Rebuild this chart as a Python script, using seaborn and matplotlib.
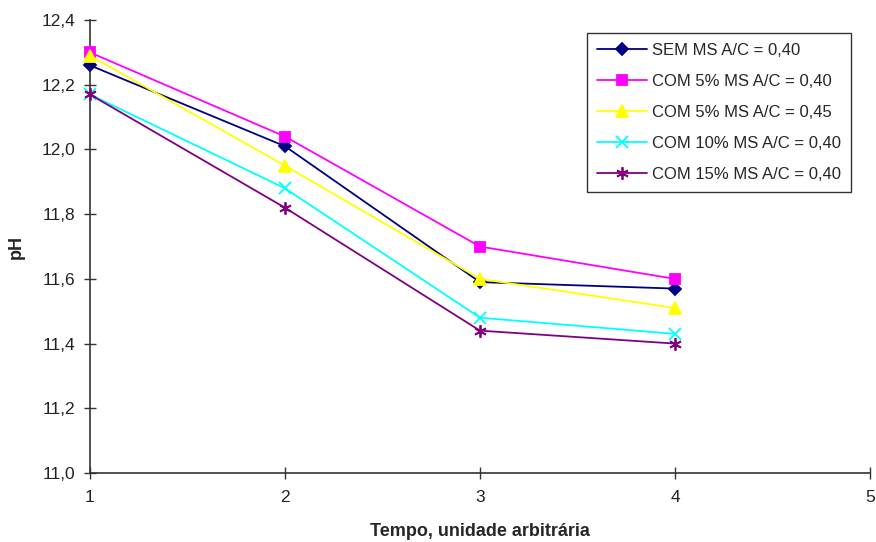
import numpy as np
import pandas as pd
from matplotlib import pyplot as plt
from matplotlib.ticker import FuncFormatter
import seaborn as sns

# Dados
tempo = [1, 2, 3, 4]
series = [
    "SEM MS A/C = 0,40",
    "COM 5% MS A/C = 0,40",
    "COM 5% MS A/C = 0,45",
    "COM 10% MS A/C = 0,40",
    "COM 15% MS A/C = 0,40",
]
ph_sem_040 = [12.26, 12.01, 11.59, 11.57]
ph_5_040 = [12.30, 12.04, 11.70, 11.60]
ph_5_045 = [12.29, 11.95, 11.60, 11.51]
ph_10_040 = [12.17, 11.88, 11.48, 11.43]
ph_15_040 = [12.17, 11.82, 11.44, 11.40]

cores = ["#000080", "#FF00FF", "#FFFF00", "#00FFFF", "#800080"]
marcadores = ["D", "s", "^", "x", (6, 2, 0)]
tamanhos = [6, 7, 8, 8, 9]


def main():
    sns.set_style("white")
    plt.rcParams['font.family'] = ['Liberation Sans', 'DejaVu Sans']

    df = pd.DataFrame({
        "Tempo": tempo * 5,
        "pH": ph_sem_040 + ph_5_040 + ph_5_045 + ph_10_040 + ph_15_040,
        "Serie": np.repeat(series, len(tempo)),
    })

    fig = plt.figure(figsize=(8.76, 5.42), dpi=100)
    ax = fig.add_axes([0.1027, 0.1273, 0.8904, 0.8357])

    for nome, cor, mk, ms in zip(series, cores, marcadores, tamanhos):
        sub = df[df["Serie"] == nome]
        sns.lineplot(data=sub, x="Tempo", y="pH", ax=ax, color=cor, marker=mk,
                     markersize=ms, markeredgecolor=cor, markeredgewidth=1.3,
                     linewidth=1.3, label=nome, clip_on=False, zorder=3)

    ax.set_xlim(1, 5)
    ax.set_ylim(11.0, 12.4)
    ax.set_xticks([1, 2, 3, 4, 5])
    ax.set_yticks(np.arange(11.0, 12.41, 0.2))
    ax.yaxis.set_major_formatter(FuncFormatter(lambda v, p: f"{v:.1f}".replace(".", ",")))
    ax.tick_params(bottom=True, left=True, direction="inout", length=9, width=1,
                   labelsize=12.5, colors="#333333", labelcolor="#222222")
    ax.tick_params(axis="x", pad=8)
    ax.tick_params(axis="y", pad=6)

    for s in ["top", "right"]:
        ax.spines[s].set_visible(False)
    for s in ["left", "bottom"]:
        ax.spines[s].set_color("#333333")
        ax.spines[s].set_linewidth(1.2)

    ax.set_xlabel("Tempo, unidade arbitrária", fontsize=13, fontweight="bold", labelpad=13)
    ax.set_ylabel("pH", fontsize=13, fontweight="bold", labelpad=12)

    leg = ax.legend(loc="upper left", bbox_to_anchor=(0.637, 0.971), borderaxespad=0,
                    fontsize=12, frameon=True, fancybox=False, edgecolor="black",
                    borderpad=0.6, labelspacing=0.95, handlelength=3.0, handletextpad=0.3)
    leg.get_frame().set_linewidth(1.0)

    fig.savefig("out.png", dpi=100)


if __name__ == '__main__':
    main()
